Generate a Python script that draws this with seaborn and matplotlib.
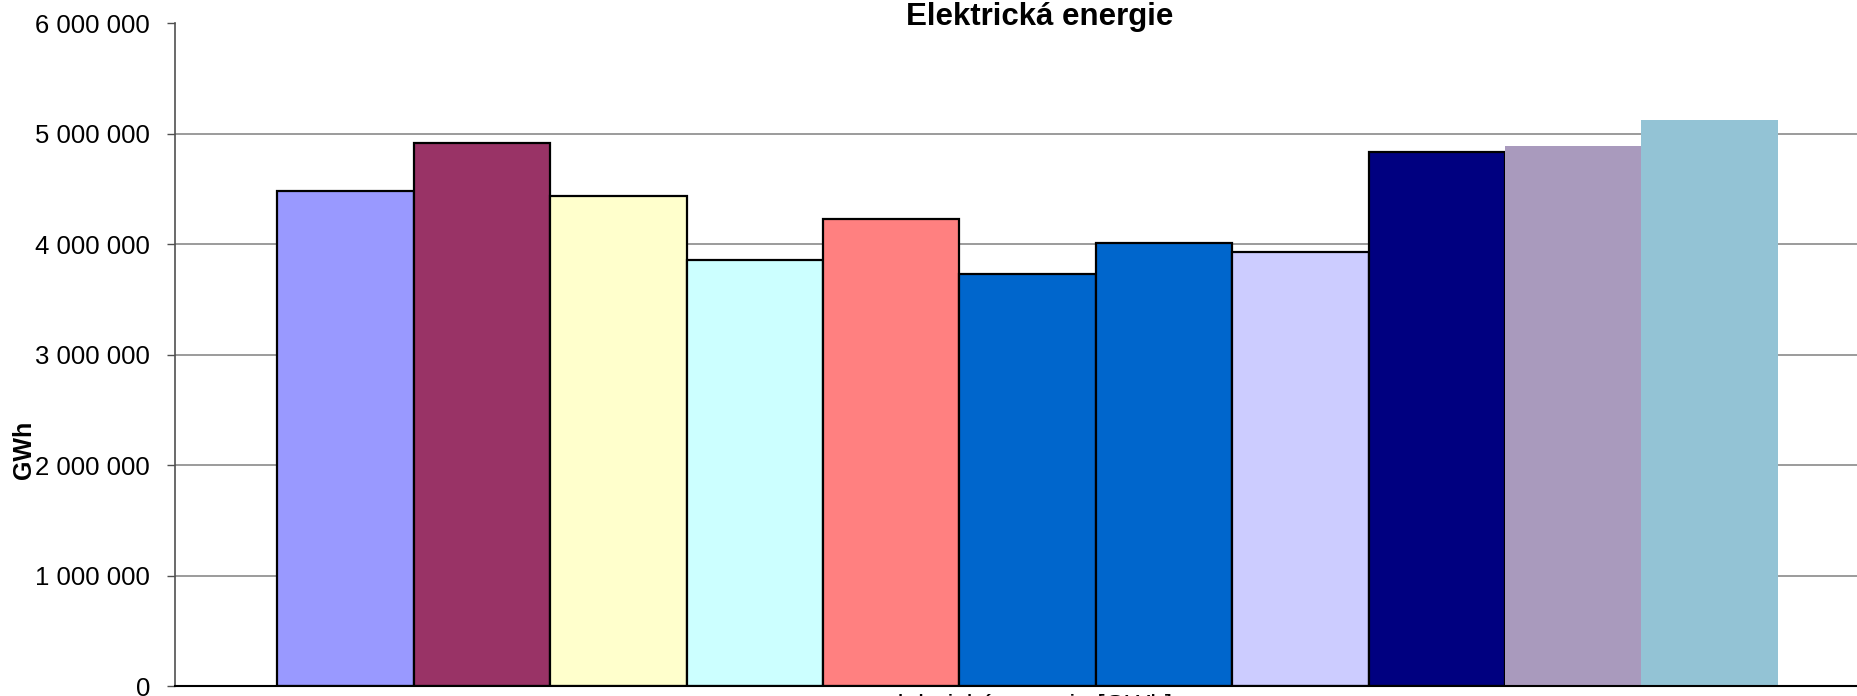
import matplotlib
matplotlib.use("Agg")
import matplotlib.pyplot as plt
import matplotlib.ticker as mticker
import pandas as pd
import seaborn as sns

# data
category = ["elektrická energie [GWh]"]
series = ["1", "2", "3", "4", "5", "6", "7", "8", "9", "10", "11"]
values = [4483000, 4920000, 4438000, 3859000, 4227000, 3732000,
          4015000, 3931000, 4837000, 4891000, 5127000]
colors = ["#9999FF", "#993366", "#FFFFCC", "#CCFFFF", "#FF8080", "#0066CC",
          "#0066CC", "#CCCCFF", "#000080", "#A99ABD", "#93C3D5"]
has_edge = [True] * 9 + [False] * 2
yticks = [0, 1000000, 2000000, 3000000, 4000000, 5000000, 6000000]

df = pd.DataFrame({"cat": category * len(series), "series": series, "value": values})

sns.set_style("white")
plt.rcParams["font.family"] = ["Liberation Sans", "DejaVu Sans"]
plt.rcParams["text.color"] = "black"

fig = plt.figure(figsize=(18.57, 6.96), dpi=100)
ax = fig.add_axes([175 / 1857, 10 / 696, 1705 / 1857, 662.5 / 696])

sns.barplot(data=df, x="cat", y="value", hue="series", hue_order=series,
            palette=colors, width=0.88, legend=False, ax=ax, saturation=1)

for p, e in zip(ax.patches, has_edge):
    if e:
        p.set_edgecolor("black")
        p.set_linewidth(1.6)
    else:
        p.set_edgecolor("none")
        p.set_linewidth(0)

ax.set_xlim(-0.5, 0.5)
ax.set_ylim(0, 6000000)
ax.set_yticks(yticks)
ax.yaxis.set_major_formatter(mticker.FuncFormatter(lambda v, _: f"{int(v):,}".replace(",", " ")))
ax.yaxis.grid(True, color="#808080", linewidth=1.1)
ax.set_axisbelow(True)

for s in ["top", "right"]:
    ax.spines[s].set_visible(False)
ax.spines["left"].set_color("#505050")
ax.spines["left"].set_linewidth(1.2)
ax.spines["bottom"].set_color("black")
ax.spines["bottom"].set_linewidth(1.5)

ax.tick_params(axis="y", which="major", left=True, length=6, width=1, color="#505050",
               labelsize=18.5, pad=12, labelcolor="black")
ax.tick_params(axis="x", length=0, labelsize=19, pad=6, labelcolor="black")
ax.set_xlabel("")
ax.set_ylabel("")

fig.text(1040 / 1857, 1 - 25 / 696, "Elektrická energie", ha="center", va="baseline",
         fontsize=22.5, fontweight="bold", color="black")
fig.text(24 / 1857, 1 - 450 / 696, "GWh", ha="center", va="center", rotation=90,
         fontsize=18, fontweight="bold", color="black")

fig.savefig("out.png", dpi=100)
